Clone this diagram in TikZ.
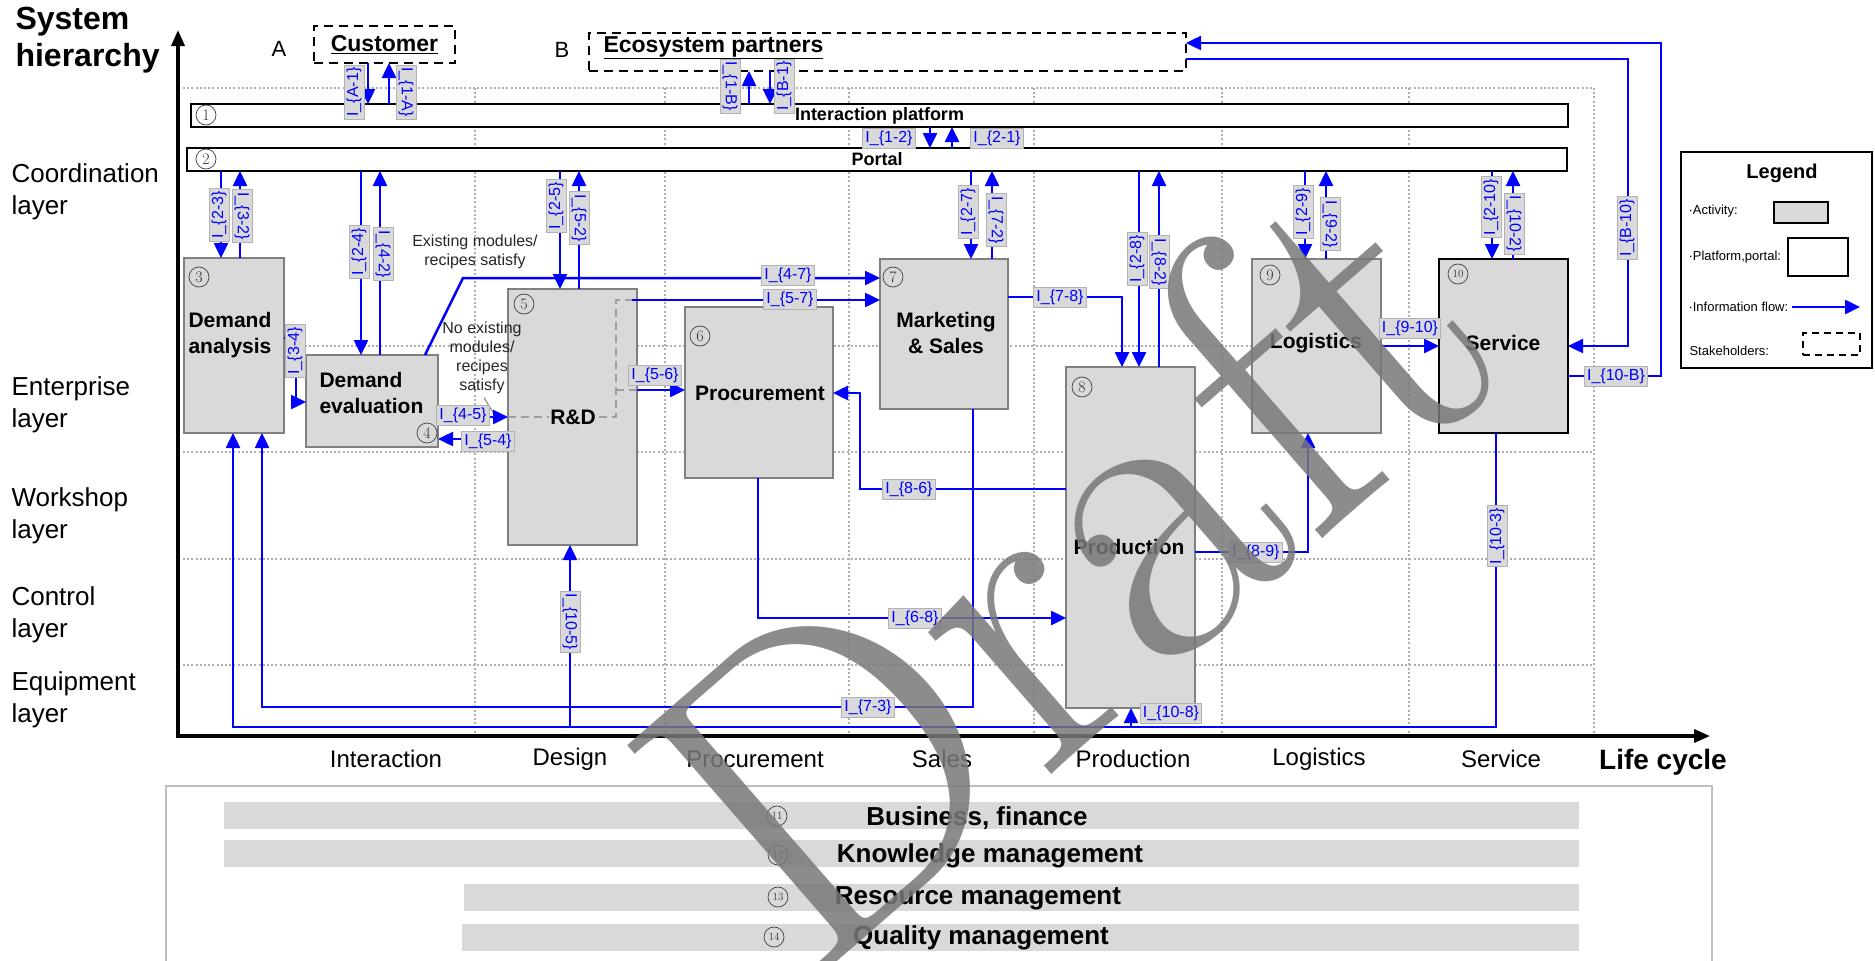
\documentclass[tikz,border=0pt]{standalone}
\usepackage{fontspec}
\setsansfont{Liberation Sans}
\usetikzlibrary{arrows.meta}
\definecolor{actfill}{RGB}{217,217,217}
\definecolor{flowblue}{RGB}{0,0,255}
\definecolor{gridgray}{RGB}{175,175,175}
\definecolor{wmgray}{RGB}{120,120,120}
\newcommand{\fs}[1]{\fontsize{#1}{#1}\selectfont}
\tikzset{
  act/.style={draw=gray, line width=2pt, fill=actfill, inner sep=0pt, outer sep=0pt},
  plat/.style={draw=black, line width=2.2pt, fill=white, inner sep=0pt, outer sep=0pt},
  stake/.style={draw=black, line width=2.2pt, dash pattern=on 9pt off 6pt, inner sep=0pt, outer sep=0pt},
  flow/.style={draw=flowblue, line width=2.5pt, -{Triangle[length=15pt,width=14pt]}},
  lab/.style={fill=actfill, draw=gray!60, line width=0.9pt, text=flowblue, font=\sffamily\fs{16}, inner xsep=2.5pt, inner ysep=2.5pt},
  cnum/.style={circle, draw=black!75, line width=0.7pt, minimum size=20pt, inner sep=0pt, font=\rmfamily\fs{16}, text=black!80},
  cnumb/.style={cnum, font=\rmfamily\fs{11}},
  boxtxt/.style={font=\sffamily\bfseries\fontsize{21}{26}\selectfont, align=left},
  layer/.style={font=\sffamily\fontsize{26}{32}\selectfont, align=left, anchor=west},
  coltxt/.style={font=\sffamily\fs{24}},
  gridline/.style={draw=gridgray, line width=1.6pt, dash pattern=on 2pt off 2.2pt},
  axis/.style={draw=black, line width=3.5pt, -{Triangle[length=16pt,width=13pt]}},
  note/.style={font=\sffamily\fontsize{16}{19}\selectfont, align=center, text=black!85},
  legtxt/.style={font=\sffamily\fs{13}, anchor=west},
  bartxt/.style={font=\sffamily\bfseries\fs{26}},
  bar/.style={fill=actfill, inner sep=0pt, outer sep=0pt, minimum height=27pt, anchor=west},
  rdash/.style={draw=gray!75, line width=2pt, dash pattern=on 8pt off 5pt},
}
\begin{document}
\begin{tikzpicture}[x=1pt,y=-1pt]
\useasboundingbox (0,0) rectangle (1875,961);
\clip (0,0) rectangle (1875,961);

% grid
\foreach \yy in {88,346,452,559,665} \draw[gridline] (183,\yy) -- (1594,\yy);
\foreach \xx in {475,665,849,1034,1222,1409,1594} \draw[gridline] (\xx,88) -- (\xx,736);

% axes
\coordinate (origin) at (178,736);
\coordinate (ytip) at (178,30);
\coordinate (xtip) at (1710,736);
\draw[axis] (origin) -- (ytip);
\draw[axis] (176.25,736) -- (xtip);

\node[font=\sffamily\bfseries\fontsize{32}{37}\selectfont, align=left, anchor=west] (sysh) at (12,40) {System\\hierarchy};
\node[font=\sffamily\bfseries\fs{28}] (lifec) at (1663,762) {Life cycle};

\node[layer] (ly1) at (8,192) {Coordination\\layer};
\node[layer] (ly2) at (8,405) {Enterprise\\layer};
\node[layer] (ly3) at (8,516) {Workshop\\layer};
\node[layer] (ly4) at (8,615) {Control\\layer};
\node[layer] (ly5) at (8,700) {Equipment\\layer};

\node[coltxt] (cl1) at (386,759) {Interaction};
\node[coltxt] (cl2) at (570,759) {Design};
\node[coltxt] (cl3) at (755,759) {Procurement};
\node[coltxt] (cl4) at (942,759) {Sales};
\node[coltxt] (cl5) at (1133,759) {Production};
\node[coltxt] (cl6) at (1319,759) {Logistics};
\node[coltxt] (cl7) at (1501,759) {Service};

% stakeholders
\node[font=\sffamily\fs{22}] (lA) at (279,49) {A};
\node[font=\sffamily\fs{22}] (lB) at (562,50) {B};
\node[stake, minimum width=141pt, minimum height=37pt, font=\sffamily\bfseries\fs{23}] (cust) at (384.5,44.5) {\underline{Customer}};
\node[stake, minimum width=597pt, minimum height=38pt] (eco) at (887.5,52) {};
\node[font=\sffamily\bfseries\fs{23}, anchor=west] (ecot) at (600,48) {\underline{Ecosystem partners}};

% platforms
\node[plat, minimum width=1377pt, minimum height=23pt, font=\sffamily\bfseries\fs{18}] (plat1) at (879.5,115.5) {Interaction platform};
\node[plat, minimum width=1380pt, minimum height=23pt, font=\sffamily\bfseries\fs{18}] (portal) at (877,159.5) {Portal};
\node[cnum] (c1) at (206,115) {1};
\node[cnum] (c2) at (206,159) {2};

% activities
\node[act, minimum width=100pt, minimum height=175pt] (n3) at (234,345.5) {};
\node[act, minimum width=132pt, minimum height=92pt] (n4) at (372,401) {};
\node[act, minimum width=129pt, minimum height=256pt] (n5) at (572.5,417) {};
\node[act, minimum width=148pt, minimum height=171pt] (n6) at (759,392.5) {};
\node[act, minimum width=128pt, minimum height=150pt] (n7) at (944,334) {};
\node[act, minimum width=129pt, minimum height=341pt] (n8) at (1130.5,537.5) {};
\node[act, minimum width=129pt, minimum height=174pt] (n9) at (1316.5,346) {};
\node[act, draw=black, line width=2.6pt, minimum width=129pt, minimum height=174pt] (n10) at (1503.5,346) {};

% dashed path inside R&D
\draw[rdash] (n5.west |- 0,417) -- (616,417) -- (616,300) -- (632,300);
\draw[rdash] (616,390) -- (n5.east |- 0,390);

\node[boxtxt, anchor=west] (t3) at (185,335) {Demand\\analysis};
\node[boxtxt, anchor=west] (t4) at (316,393) {Demand\\evaluation};
\node[boxtxt, fill=actfill, inner sep=1pt] (t5) at (573,417) {R\&D};
\node[boxtxt] (t6) at (760,393) {Procurement};
\node[boxtxt, align=center] (t7) at (946,333) {Marketing\\\& Sales};
\node[boxtxt] (t8) at (1129,547) {Production};
\node[boxtxt] (t9) at (1316,343) {Logistics};
\node[boxtxt] (t10) at (1503,343) {Service};

\node[cnum] (c3) at (199,277) {3};
\node[cnum] (c4) at (427,433) {4};
\node[cnum] (c5) at (524,304) {5};
\node[cnum] (c6) at (700,336) {6};
\node[cnum] (c7) at (893,277) {7};
\node[cnum] (c8) at (1082,387) {8};
\node[cnum] (c9) at (1270,275) {9};
\node[cnumb] (c10) at (1458,274) {10};

% notes
\node[note] (ex) at (475,252) {Existing modules/\\recipes satisfy};
\node[note] (noex) at (482,358) {No existing\\modules/\\recipes\\satisfy};
\draw[gray, line width=1pt] (noex.south) ++(2,0) coordinate (nxa) (nxa) -- (494,414);

% flows: stakeholders <-> platform
\draw[flow] (cust.south -| 368,0) -- (plat1.north -| 368,0);
\draw[flow] (plat1.north -| 389,0) -- (cust.south -| 389,0);
\draw[flow] (plat1.north -| 749,0) -- (eco.south -| 749,0);
\draw[flow] (eco.south -| 770,0) -- (plat1.north -| 770,0);
\draw[flow] (plat1.south -| 930,0) -- (portal.north -| 930,0);
\draw[flow] (portal.north -| 952,0) -- (plat1.south -| 952,0);
% portal <-> activities
\draw[flow] (portal.south -| 221,0) -- (n3.north -| 221,0);
\draw[flow] (n3.north -| 240,0) -- (portal.south -| 240,0);
\draw[flow] (portal.south -| 361,0) -- (n4.north -| 361,0);
\draw[flow] (n4.north -| 380,0) -- (portal.south -| 380,0);
\draw[flow] (portal.south -| 560,0) -- (n5.north -| 560,0);
\draw[flow] (n5.north -| 579,0) -- (portal.south -| 579,0);
\draw[flow] (portal.south -| 971,0) -- (n7.north -| 971,0);
\draw[flow] (n7.north -| 992,0) -- (portal.south -| 992,0);
\draw[flow] (portal.south -| 1139,0) -- (n8.north -| 1139,0);
\draw[flow] (n8.north -| 1159,0) -- (portal.south -| 1159,0);
\draw[flow] (portal.south -| 1305,0) -- (n9.north -| 1305,0);
\draw[flow] (n9.north -| 1326,0) -- (portal.south -| 1326,0);
\draw[flow] (portal.south -| 1492,0) -- (n10.north -| 1492,0);
\draw[flow] (n10.north -| 1513,0) -- (portal.south -| 1513,0);
% service <-> ecosystem
\draw[flow] (n10.east |- 0,376) -- (1661,376) -- (1661,43) -- (eco.east |- 0,43);
\draw[flow] (eco.east |- 0,59) -- (1628,59) -- (1628,346) -- (n10.east |- 0,346);
% activity flows
\draw[flow] (n3.east |- 0,338) -- (296,338) -- (296,402) -- (n4.west |- 0,402);
\draw[flow] (n4.east |- 0,417) -- (n5.west |- 0,417);
\draw[flow] (n5.west |- 0,439) -- (n4.east |- 0,439);
\draw[flow] (n4.north -| 425,0) -- (463,278) -- (n7.west |- 0,278);
\coordinate (d57) at (632,300);
\draw[flow] (d57) -- (n7.west |- 0,300);
\draw[flow] (n5.east |- 0,390) -- (n6.west |- 0,390);
\draw[flow] (n7.east |- 0,297) -- (1122,297) -- (n8.north -| 1122,0);
\draw[flow] (n8.west |- 0,489) -- (860,489) -- (860,393) -- (n6.east |- 0,393);
\draw[flow] (n7.south -| 973,0) -- (973,707) -- (262,707) -- (n3.south -| 262,0);
\draw[flow] (n10.south -| 1496,0) -- (1496,727) -- (233,727) -- (n3.south -| 233,0);
\coordinate (b5) at (570,727);
\coordinate (b8) at (1131,727);
\draw[flow] (b5) -- (n5.south -| 570,0);
\draw[flow] (b8) -- (n8.south -| 1131,0);
\draw[flow] (n6.south -| 758,0) -- (758,618) -- (n8.west |- 0,618);
\draw[flow] (n8.east |- 0,552) -- (1308,552) -- (n9.south -| 1308,0);
\draw[flow] (n9.east |- 0,346) -- (n10.west |- 0,346);

% flow labels
\node[lab, rotate=90] (LA1) at (354,92) {I\_\{A-1\}};
\node[lab, rotate=-90] (L1A) at (406,92) {I\_\{1-A\}};
\node[lab, rotate=-90] (L1B) at (730,86) {I\_\{1-B\}};
\node[lab, rotate=90] (LB1) at (784,86) {I\_\{B-1\}};
\node[lab] (L12) at (889,138) {I\_\{1-2\}};
\node[lab] (L21) at (997,138) {I\_\{2-1\}};
\node[lab, rotate=90] (L23) at (219,215) {I\_\{2-3\}};
\node[lab, rotate=-90] (L32) at (242,216) {I\_\{3-2\}};
\node[lab, rotate=90] (L24) at (359,252) {I\_\{2-4\}};
\node[lab, rotate=-90] (L42) at (383,254) {I\_\{4-2\}};
\node[lab, rotate=90] (L25) at (556,206) {I\_\{2-5\}};
\node[lab, rotate=-90] (L52) at (579,218) {I\_\{5-2\}};
\node[lab, rotate=90] (L27) at (968,212) {I\_\{2-7\}};
\node[lab, rotate=-90] (L72) at (996,220) {I\_\{7-2\}};
\node[lab, rotate=90] (L28) at (1137,259) {I\_\{2-8\}};
\node[lab, rotate=-90] (L82) at (1159,262) {I\_\{8-2\}};
\node[lab, rotate=90] (L29) at (1303,212) {I\_\{2-9\}};
\node[lab, rotate=-90] (L92) at (1330,224) {I\_\{9-2\}};
\node[lab, rotate=90] (L210) at (1491,207) {I\_\{2-10\}};
\node[lab, rotate=-90] (L102) at (1514,224) {I\_\{10-2\}};
\node[lab, rotate=90] (LB10) at (1627,228) {I\_\{B-10\}};
\node[lab] (L10B) at (1616,376) {I\_\{10-B\}};
\node[lab, rotate=90] (L34) at (295,351) {I\_\{3-4\}};
\node[lab] (L45) at (463,415) {I\_\{4-5\}};
\node[lab] (L54) at (488,441) {I\_\{5-4\}};
\node[lab] (L47) at (788,275) {I\_\{4-7\}};
\node[lab] (L57) at (790,299) {I\_\{5-7\}};
\node[lab] (L56) at (655,375) {I\_\{5-6\}};
\node[lab] (L78) at (1060,297) {I\_\{7-8\}};
\node[lab] (L86) at (909,489) {I\_\{8-6\}};
\node[lab] (L73) at (868,707) {I\_\{7-3\}};
\node[lab, rotate=90] (L103) at (1497,536) {I\_\{10-3\}};
\node[lab, rotate=-90] (L105) at (570,622) {I\_\{10-5\}};
\node[lab] (L108) at (1171,713) {I\_\{10-8\}};
\node[lab] (L68) at (915,618) {I\_\{6-8\}};
\node[lab] (L89) at (1256,552) {I\_\{8-9\}};
\node[lab] (L910) at (1410,328) {I\_\{9-10\}};

% legend
\node[draw=black, line width=2pt, minimum width=191pt, minimum height=216pt, inner sep=0pt, outer sep=0pt] (legend) at (1776.5,260) {};
\node[font=\sffamily\bfseries\fs{20}] (legt) at (1782,173) {Legend};
\node[legtxt] (lg1) at (1685,211) {·Activity:};
\node[draw=black, line width=1.8pt, fill=actfill, minimum width=54pt, minimum height=21pt, inner sep=0pt] (lgact) at (1801,212.5) {};
\node[legtxt] (lg2) at (1685,257) {·Platform,portal:};
\node[draw=black, line width=1.8pt, fill=white, minimum width=60pt, minimum height=38pt, inner sep=0pt] (lgplat) at (1818,257) {};
\node[legtxt] (lg3) at (1685,307) {·Information flow:};
\coordinate (lgend) at (1860,307);
\draw[flow] (lg3.east) -- (lgend);
\node[legtxt] (lg4) at (1686,351) {Stakeholders:};
\node[draw=black, line width=1.8pt, dash pattern=on 7pt off 5pt, minimum width=57pt, minimum height=22pt, inner sep=0pt] (lgst) at (1831.5,344) {};

% bottom panel
\node[draw=gray!50, line width=1.5pt, minimum width=1546pt, minimum height=220pt, inner sep=0pt, anchor=north west] (panel) at (165,785) {};
\node[bar, minimum width=1355pt] (bar11) at (224,815) {};
\node[bar, minimum width=1355pt] (bar12) at (224,853) {};
\node[bar, minimum width=1115pt] (bar13) at (464,897) {};
\node[bar, minimum width=1117pt] (bar14) at (462,937) {};
\node[bartxt] (tb11) at (977,818) {Business, finance};
\node[bartxt] (tb12) at (990,856) {Knowledge management};
\node[bartxt] (tb13) at (978,898) {Resource management};
\node[bartxt] (tb14) at (981,938) {Quality management};
\node[cnumb] (c11) at (777,816) {11};
\node[cnumb] (c12) at (778,855) {12};
\node[cnumb] (c13) at (778,897) {13};
\node[cnumb] (c14) at (774,937) {14};

% watermark
\node[rotate=41, font=\rmfamily\fs{440}, text=wmgray, opacity=0.85] (draft) at (1064,562) {Draft};
\end{tikzpicture}
\end{document}
